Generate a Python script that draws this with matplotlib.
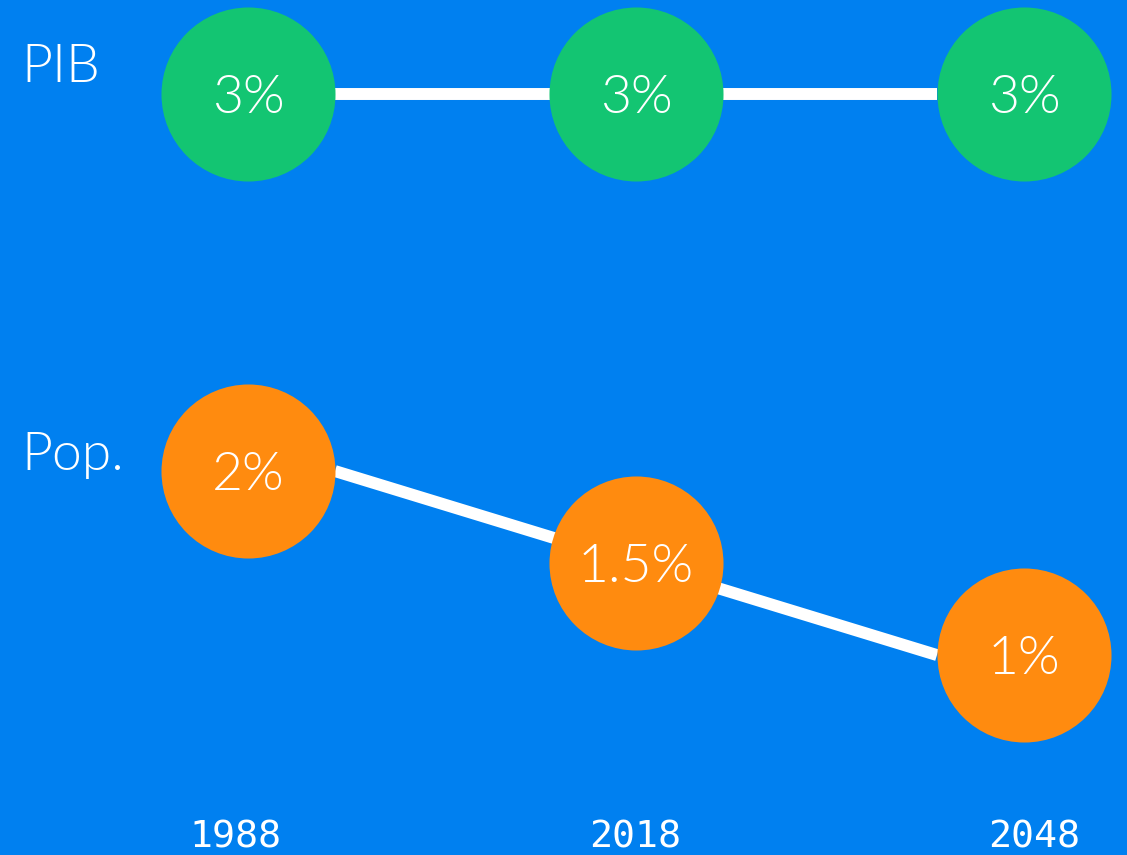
import numpy as np
import matplotlib
matplotlib.use('Agg')
import matplotlib.pyplot as plt

# data
years = [1988, 2018, 2048]
pib = [3, 3, 3]
pop = [2, 1.5, 1]
pib_labels = ['3%', '3%', '3%']
pop_labels = ['2%', '1.5%', '1%']

BG = '#0080F0'
GREEN = '#13C572'
ORANGE = '#FF8B0F'
LABEL_FONT = {'family': ['Lato', 'DejaVu Sans'], 'weight': 300, 'size': 38.5}

fig = plt.figure(figsize=(11.27, 8.55), dpi=100, facecolor=BG)

xlim_dots = (1968.825, 2055.97)
# connecting lines use a narrower x range (inset by one radius on each side)
xlim_lines = (1954.61, 2066.94)


def draw_row(ylim, values, labels, color):
    ax_line = fig.add_axes([0, 0, 1, 1])
    ax_line.set_xlim(*xlim_lines)
    ax_line.set_ylim(*ylim)
    ax_line.plot(years, values, color='white', linewidth=8.6, solid_capstyle='butt')
    ax_line.axis('off')

    ax = fig.add_axes([0, 0, 1, 1])
    ax.set_xlim(*xlim_dots)
    ax.set_ylim(*ylim)
    ax.plot(years, values, linestyle='none', marker='o', markersize=125.3,
            markerfacecolor=color, markeredgewidth=0, zorder=2)
    for x, y, lab in zip(years, values, labels):
        ax.text(x, y, lab, color='white', ha='center', va='center_baseline',
                fontdict=LABEL_FONT, zorder=3)
    ax.axis('off')


draw_row((-5.9, 4.1), pib, pib_labels, GREEN)
draw_row((-0.0865, 4.5602), pop, pop_labels, ORANGE)

# year labels along the bottom
ax_years = fig.add_axes([0, 0, 1, 1])
ax_years.set_xlim(1970.26, 2055.0)
ax_years.set_ylim(0, 1)
for yr in years:
    ax_years.text(yr, 0.0085, str(yr), color='white', ha='center', va='baseline',
                  family='DejaVu Sans Mono', fontsize=27.5)
ax_years.axis('off')

# row titles
fig.text(21 / 1127, 1 - 82 / 855, 'PIB', color='white', ha='left', va='baseline',
         fontdict=LABEL_FONT)
fig.text(21 / 1127, 1 - 470 / 855, 'Pop.', color='white', ha='left', va='baseline',
         fontdict=LABEL_FONT)

fig.savefig('out.png', dpi=100, facecolor=BG)
